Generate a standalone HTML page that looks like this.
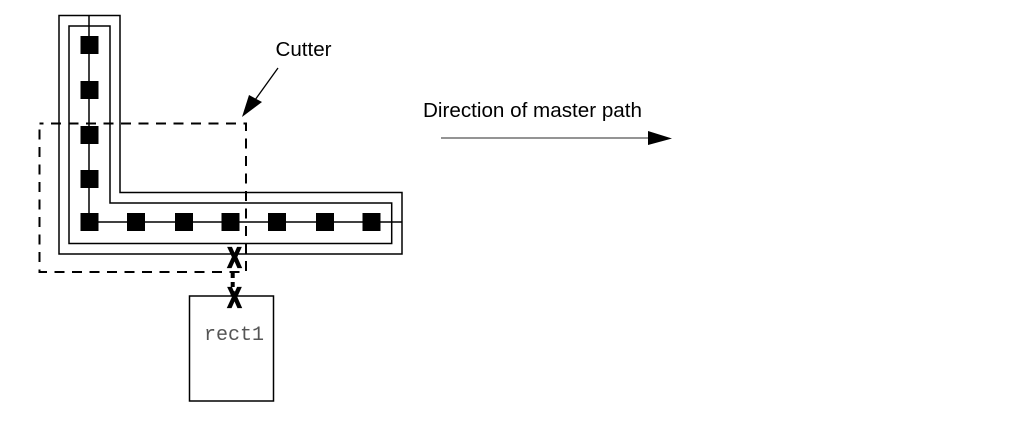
<!DOCTYPE html>
<html><head><meta charset="utf-8"><style>html,body{margin:0;padding:0;background:#fff}svg{display:block}</style></head>
<body>
<svg width="1013" height="421" viewBox="0 0 1013 421" xmlns="http://www.w3.org/2000/svg">
<g fill="none" stroke="#000" stroke-width="1.5">
<path d="M59 254V15.5H120V192.5H402V254Z"/>
<path d="M69 243.5V26H110V203H391.7V243.5Z"/>
<path d="M89 15.5V222H402"/>
<rect x="189.5" y="296" width="84" height="105"/>
</g>
<g fill="#000">
<rect x="80.5" y="36" width="18" height="18"/>
<rect x="80.5" y="81" width="18" height="18"/>
<rect x="80.5" y="126" width="18" height="18"/>
<rect x="80.5" y="170" width="18" height="18"/>
<rect x="80.5" y="213" width="18" height="18"/>
<rect x="127" y="213" width="18" height="18"/>
<rect x="175" y="213" width="18" height="18"/>
<rect x="221.5" y="213" width="18" height="18"/>
<rect x="268" y="213" width="18" height="18"/>
<rect x="316" y="213" width="18" height="18"/>
<rect x="362.5" y="213" width="18" height="18"/>
</g>
<rect x="39.5" y="123.5" width="206.5" height="148.5" fill="none" stroke="#000" stroke-width="2" stroke-dasharray="10 7.5" stroke-dashoffset="6"/>
<path d="M232.7 273V296" stroke="#000" stroke-width="4" stroke-dasharray="5 4" fill="none"/>
<path d="M278 68L255 100" stroke="#000" stroke-width="1.3" fill="none"/>
<path d="M242 117L249 95L262 102Z" fill="#000"/>
<path d="M441 138H650" stroke="#555" stroke-width="1.2" fill="none"/>
<path d="M648 131L672 138.5L648 145Z" fill="#000"/>
<g font-family="'Liberation Sans',sans-serif" fill="#000">
<text x="275.5" y="56" font-size="20" textLength="56" lengthAdjust="spacingAndGlyphs">Cutter</text>
<text x="423" y="117" font-size="20" textLength="219" lengthAdjust="spacingAndGlyphs">Direction of master path</text>
<g font-size="28" font-weight="bold" stroke="#000" stroke-width="2.2">
<text x="228" y="267" textLength="13" lengthAdjust="spacingAndGlyphs">X</text>
<text x="228" y="307" textLength="13" lengthAdjust="spacingAndGlyphs">X</text>
</g>
</g>
<text x="204" y="340" font-family="'Liberation Mono',monospace" font-size="20" fill="#555" textLength="60" lengthAdjust="spacingAndGlyphs">rect1</text>
</svg>
</body></html>
